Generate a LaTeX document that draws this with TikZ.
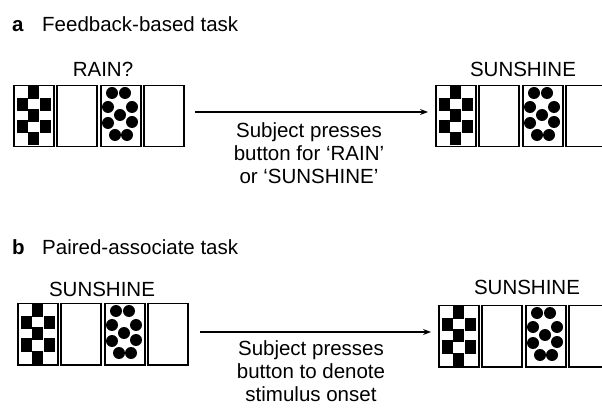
\documentclass[tikz,border=0pt]{standalone}
\usepackage{fontspec}
\setmainfont{Liberation Sans}
\usetikzlibrary{arrows.meta}

% four cards in a row: name, left x, top y
\newcommand{\cardrow}[3]{%
  \foreach \i/\dx in {1/0,2/43,3/87,4/130}
    \node[card] (#1\i) at (#2+\dx,#3) {};
  \foreach \px/\py in {20/8,9/20,32/20,20/31,9/42,32/42,20/54}
    \fill[shift={(#11.north west)}] (\px-5.5,\py-6.5) rectangle (\px+5.5,\py+6.5);
  \foreach \px/\py in {12/8,25/8,8/22,32/22,20/30,8/38,32/37,15/50,27/50}
    \fill[shift={(#13.north west)}] (\px,\py) circle[radius=6];
}

\begin{document}
\begin{tikzpicture}[x=1pt,y=-1pt]
        \tikzstyle{every node}=[inner sep=0pt, font=\fontsize{20.5}{23}\selectfont]
        \tikzstyle{card}=[draw, line width=1.5pt, minimum width=40pt, minimum height=61pt, anchor=north west]
        \tikzstyle{arrow}=[line width=1.1pt, -{Stealth[length=8pt,width=6pt]}]
        \useasboundingbox (0,0) rectangle (602,411);
        \clip (0,0) rectangle (602,411);
        % a: feedback-based task
        \node[anchor=base west] (labela) at (12,32) {\textbf{a}};
        \node[anchor=base west] (titlea) at (42,32) {Feedback-based task};
        \cardrow{fl}{13}{85}
        \cardrow{fr}{435}{85}
        \node[anchor=base] (rain) at (103,77) {RAIN?};
        \node[anchor=base] (sunfb) at (523,77) {SUNSHINE};
        \coordinate (fstart) at (195,112);
        \coordinate (fend) at (428,112);
        \draw[arrow] (fstart) -- (fend);
        \node[anchor=north, align=center] (fpress) at (309,122) {Subject presses\\button for ‘RAIN’\\or ‘SUNSHINE’};
        % b: paired-associate task
        \node[anchor=base west] (labelb) at (12,255) {\textbf{b}};
        \node[anchor=base west] (titleb) at (42,255) {Paired-associate task};
        \cardrow{pl}{17}{303}
        \cardrow{pr}{438}{305}
        \node[anchor=base] (sunpl) at (102,297) {SUNSHINE};
        \node[anchor=base] (sunpr) at (527,295) {SUNSHINE};
        \coordinate (pstart) at (200,332);
        \coordinate (pend) at (431,332);
        \draw[arrow] (pstart) -- (pend);
        \node[anchor=north, align=center] (ppress) at (311,340) {Subject presses\\button to denote\\stimulus onset};
    \end{tikzpicture}
\end{document}
